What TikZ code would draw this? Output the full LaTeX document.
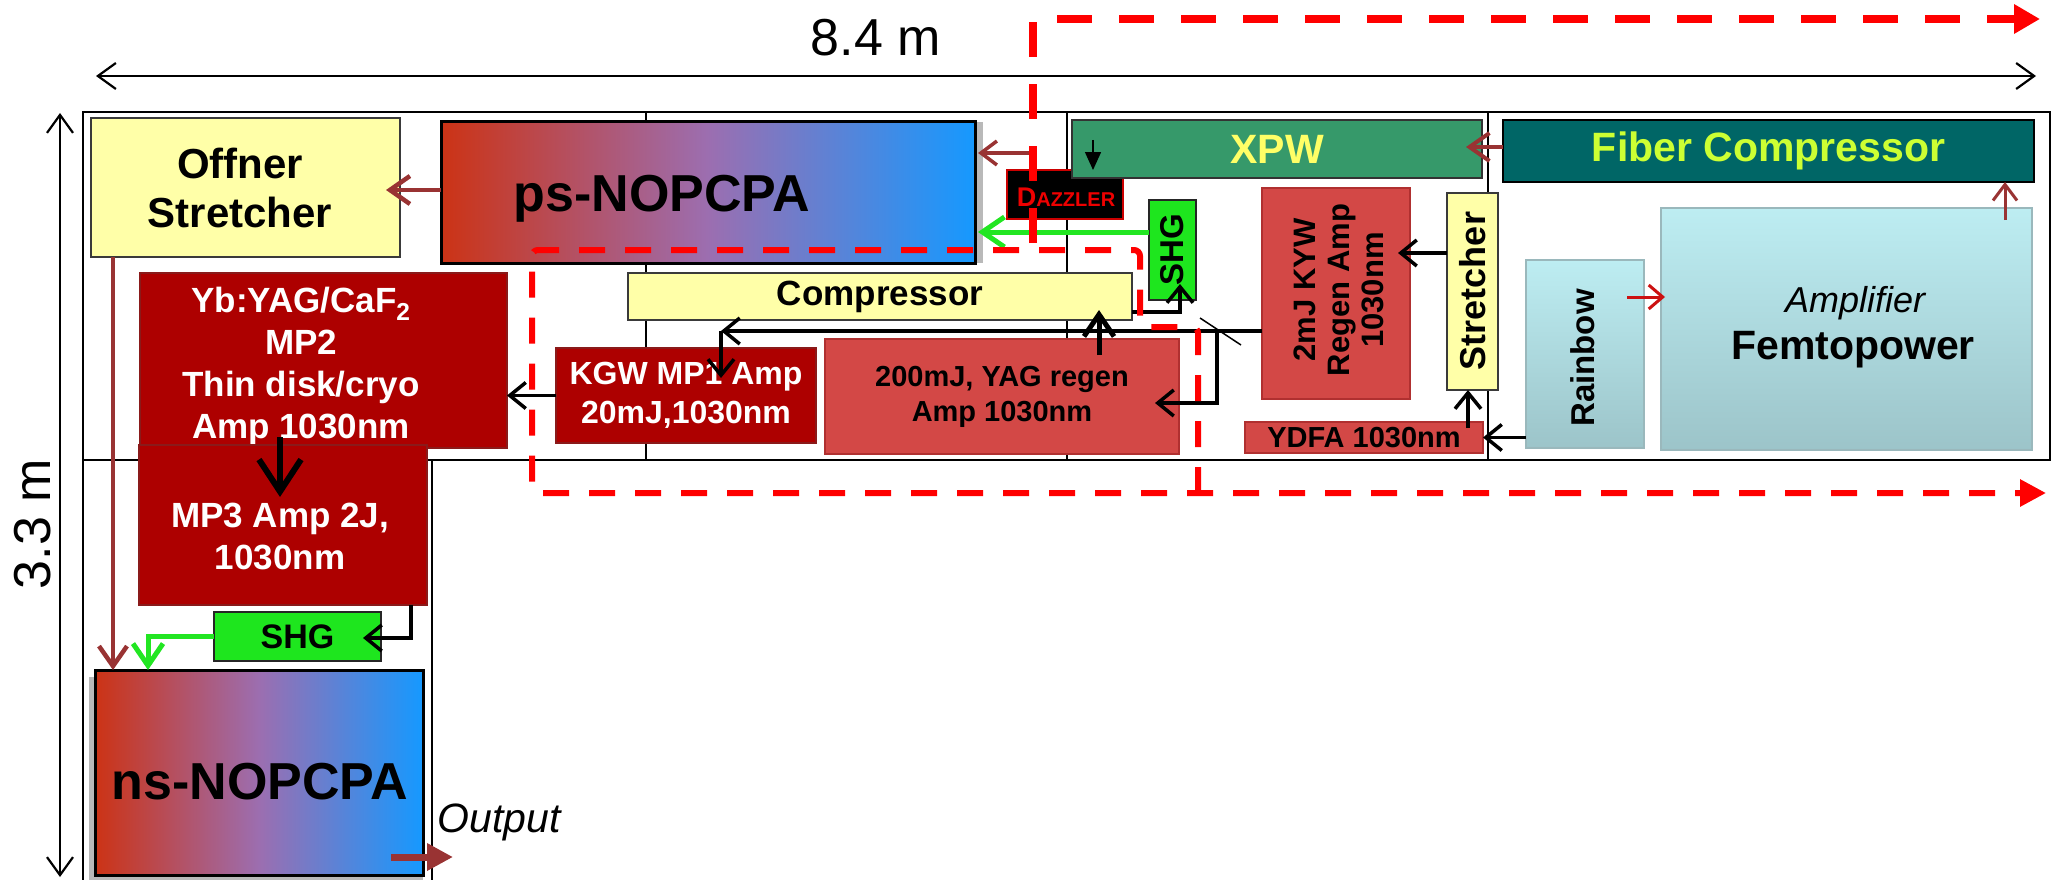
\documentclass[tikz,border=0pt]{standalone}
\usepackage{fontspec}
\setmainfont{Liberation Sans}
\usetikzlibrary{arrows.meta,calc}
\definecolor{yelF}{HTML}{FFFFA8}
\definecolor{yelD}{HTML}{3A3A3A}
\definecolor{dredF}{HTML}{AD0000}
\definecolor{dredD}{HTML}{8A1A1A}
\definecolor{mredF}{HTML}{D34846}
\definecolor{mredD}{HTML}{B03030}
\definecolor{cyT}{HTML}{BDEDF2}
\definecolor{cyB}{HTML}{9CC4C9}
\definecolor{cyD}{HTML}{9AB8BC}
\definecolor{gL}{HTML}{CC3315}
\definecolor{gM}{HTML}{9C6EB0}
\definecolor{gR}{HTML}{1599FF}
\definecolor{xpwF}{HTML}{36996A}
\definecolor{xpwT}{HTML}{FFFF66}
\definecolor{fibF}{HTML}{006666}
\definecolor{fibT}{HTML}{CCFF33}
\definecolor{grnF}{HTML}{1EE61E}
\definecolor{grnL}{HTML}{22E622}
\definecolor{drA}{HTML}{993333}
\definecolor{redA}{HTML}{CC1111}
\definecolor{redD}{HTML}{FF0000}
\definecolor{dazD}{HTML}{CC0000}
\definecolor{dazT}{HTML}{EE0000}
\newcommand\myfs[2]{\fontsize{#1}{#2}\selectfont}
\begin{document}
\begin{tikzpicture}[x=1pt,y=-1pt,
  box/.style={inner sep=0pt,outer sep=0pt,align=center},
  yelbox/.style={box,fill=yelF,draw=yelD,line width=2.5pt},
  dredbox/.style={box,fill=dredF,draw=dredD,line width=2pt,text=white},
  mredbox/.style={box,fill=mredF,draw=mredD,line width=2pt},
  cyanbox/.style={box,top color=cyT,bottom color=cyB,draw=cyD,line width=2pt},
  gradbox/.style={box,left color=gL,right color=gR,middle color=gM,draw=black,line width=3pt},
  grnbox/.style={box,fill=grnF,draw=black!85,line width=2.5pt},
  lbl/.style={inner sep=0pt,outer sep=0pt,align=center},
  blk/.style={line width=3.5pt,draw=black,-{Straight Barb[length=16pt,width=26pt]}},
  blkthick/.style={line width=5pt,draw=black,-{Straight Barb[length=22pt,width=30pt]}},
  blkbig/.style={line width=6pt,draw=black,-{Straight Barb[length=32pt,width=42pt]}},
  drarr/.style={line width=4.5pt,draw=drA,-{Straight Barb[length=20pt,width=28pt]}},
  drthin/.style={line width=3pt,draw=drA,-{Straight Barb[length=16pt,width=24pt]}},
  grnarr/.style={line width=5pt,draw=grnL,-{Straight Barb[length=22pt,width=30pt]}},
  frame/.style={line width=2pt,draw=black},
  dim/.style={line width=2.2pt,{Straight Barb[length=18pt,width=26pt]}-{Straight Barb[length=18pt,width=26pt]}},
  reddashT/.style={line width=8pt,draw=redD,dash pattern=on 35pt off 27pt,-{Triangle[length=26pt,width=28pt]}},
  reddashB/.style={line width=6pt,draw=redD,dash pattern=on 26pt off 20pt,rounded corners=6pt,-{Triangle[length=26pt,width=26pt]}},
]
\useasboundingbox (0,0) rectangle (2058,880);

% frames
\draw[frame] (83,112) rectangle (2050,460);
\draw[frame] (83,460) -- (83,880);
\draw[frame] (432,460) -- (432,880);
\draw[frame] (646,112) -- (646,460);
\draw[frame] (1067,112) -- (1067,460);
\draw[frame] (1488,112) -- (1488,460);

% dimensions
\coordinate (dimL) at (96,76); \coordinate (dimR) at (2036,76);
\draw[dim] (dimL) -- (dimR);
\node[lbl,font=\myfs{52}{60}] (len) at (876,38) {8.4 m};
\coordinate (dimT) at (60,113); \coordinate (dimB) at (60,877);
\draw[dim] (dimT) -- (dimB);
\node[lbl,rotate=90,font=\myfs{52}{60}] (wid) at (33,524) {3.3 m};

% ps-NOPCPA
\fill[gray!55] (976,122) rectangle (983,263);
\node[gradbox,minimum width=534pt,minimum height=141pt] (ps) at (708,192.5) {};
\node[lbl,font=\myfs{52}{60}\bfseries] (psT) at (662,199) {ps-NOPCPA};

% Offner
\node[yelbox,minimum width=309pt,minimum height=139pt] (offner) at (245.5,187.5) {};
\node[lbl,font=\myfs{42}{49}\bfseries] (offT) at (240,188) {Offner\\Stretcher};

% Dazzler
\node[box,fill=black,draw=dazD,line width=2.5pt,minimum width=116pt,minimum height=49pt] (daz) at (1065,194.5) {};
\node[lbl,text=dazT,font=\bfseries] (dazT) at (1066,197) {{\myfs{27}{27}D}{\myfs{20}{20}AZZLER}};

% SHG vertical
\node[grnbox,minimum width=47pt,minimum height=100pt] (shgv) at (1172.5,250) {};
\node[lbl,rotate=90,font=\myfs{33}{36}\bfseries] (shgvT) at (1172,250) {SHG};

% XPW, Fiber compressor
\node[box,fill=xpwF,draw=black!80,line width=2.5pt,minimum width=410pt,minimum height=58pt,text=xpwT,font=\myfs{41}{48}\bfseries] (xpw) at (1277,149) {XPW};
\node[box,fill=fibF,draw=black,line width=2.5pt,minimum width=531pt,minimum height=62pt,text=fibT,font=\myfs{41}{48}\bfseries] (fiber) at (1768.5,151) {Fiber Compressor};

% Compressor
\node[yelbox,minimum width=504pt,minimum height=47pt,font=\myfs{35}{40}\bfseries] (comp) at (880,296.5) {Compressor};

% 2mJ KYW regen
\node[mredbox,minimum width=148pt,minimum height=211pt] (kyw) at (1336,293.5) {};
\node[lbl,rotate=90,font=\myfs{31}{34}\bfseries] (kywT) at (1339,290) {2mJ KYW\\Regen Amp\\1030nm};

% Stretcher
\node[yelbox,minimum width=51pt,minimum height=197pt] (str) at (1472.5,291.5) {};
\node[lbl,rotate=90,font=\myfs{36}{40}\bfseries] (strT) at (1473,291) {Stretcher};

% Rainbow, Femtopower
\node[cyanbox,minimum width=118pt,minimum height=188pt] (rb) at (1585,354) {};
\node[lbl,rotate=90,font=\myfs{33}{36}\bfseries] (rbT) at (1583,358) {Rainbow};
\node[cyanbox,minimum width=371pt,minimum height=242pt] (femto) at (1846.5,329) {};
\node[lbl,font=\myfs{36}{40}\itshape] (ampT) at (1855,303) {Amplifier};
\node[lbl,font=\myfs{41}{46}\bfseries] (femT) at (1853,350) {Femtopower};

% YDFA
\node[mredbox,minimum width=238pt,minimum height=31pt,font=\myfs{29}{32}\bfseries] (ydfa) at (1364,437.5) {YDFA 1030nm};

% 200mJ YAG regen
\node[mredbox,minimum width=354pt,minimum height=115pt,font=\myfs{29}{35}\bfseries] (yag) at (1002,396.5) {200mJ, YAG regen\\Amp 1030nm};

% KGW MP1
\node[dredbox,minimum width=260pt,minimum height=95pt,font=\myfs{32}{39}\bfseries] (kgw) at (686,395.5) {KGW MP1 Amp\\20mJ,1030nm};

% MP2
\node[dredbox,minimum width=367pt,minimum height=175pt] (mp2) at (323.5,360.5) {};
\node[lbl,text=white,font=\myfs{35}{42}\bfseries] (mp2T) at (301,366) {Yb:YAG/CaF\textsubscript{2}\\MP2\\Thin disk/cryo\\Amp 1030nm};

% MP3
\node[dredbox,minimum width=288pt,minimum height=160pt] (mp3) at (283,525) {};
\node[lbl,text=white,font=\myfs{35}{42}\bfseries] (mp3T) at (280,536) {MP3 Amp 2J,\\1030nm};

% SHG horizontal
\node[grnbox,minimum width=167pt,minimum height=49pt,font=\myfs{34}{38}\bfseries] (shgh) at (297.5,636.5) {SHG};

% ns-NOPCPA
\fill[gray!55] (89,677) rectangle (95,880);
\fill[gray!55] (89,875) rectangle (423,880);
\node[gradbox,minimum width=328pt,minimum height=205pt] (ns) at (259,772.5) {};
\node[lbl,font=\myfs{52}{60}\bfseries] (nsT) at (260,782) {ns-NOPCPA};

% Output
\node[lbl,font=\myfs{41}{48}\itshape] (outT) at (499,822) {Output};
\coordinate (o1) at (391,857); \coordinate (o2) at (453,857);
\draw[line width=7pt,draw=drA,-{Triangle[length=26pt,width=26pt]}] (o1) -- (o2);

% connectors
\coordinate (a1) at (386,190);
\draw[drarr] (ps.west |- a1) -- (a1);
\coordinate (b1) at (113,0);
\draw[drarr] (offner.south -| b1) -- (ns.north -| b1);
\coordinate (g1) at (148,0);
\draw[grnarr] (shgh.west) -| (g1 |- ns.north);
\coordinate (m1) at (411,0);
\draw[blk] (mp3.south -| m1) |- ($(shgh.east)+(-18,1.5)$);
\coordinate (m2) at (280,437); \coordinate (m3) at (280,497);
\draw[blkbig] (m2) -- (m3);
\draw[blk] (kgw.west) -- (kgw.west -| mp2.east);
\coordinate (k1) at (721,331);
\draw[blk] (kyw.west |- k1) -- (k1);
\draw[blk] (k1) -- ($(kgw.north -| k1)+(0,30)$);
\coordinate (mirA) at (1200,318); \coordinate (mirB) at (1241,345);
\draw[line width=1.5pt] (mirA) -- (mirB);
\coordinate (k2) at (1217,331); \coordinate (k3) at (1155,403);
\draw[blk] (k2) |- (k3);
\coordinate (y1) at (1099,355);
\draw[blkthick] (y1) -- ($(comp.south -| y1)+(0,-10)$);
\coordinate (c5) at (1132,312); \coordinate (c6) at (1180,0);
\draw[blk] (comp.east |- c5) -| ($(shgv.south -| c6)+(0,-16)$);
\coordinate (g2) at (978,232);
\draw[grnarr] (shgv.west |- g2) -- (g2);
\coordinate (d1) at (1030,153); \coordinate (d2) at (978,153);
\draw[drthin,line width=3.5pt] (d1) -- (d2);
\coordinate (x1) at (1093,140);
\draw[line width=1.5pt,-{Triangle[length=18pt,width=16pt]}] (x1) -- (x1 |- daz.north);
\coordinate (f1) at (1466,147);
\draw[drarr,line width=4pt] (fiber.west |- f1) -- (f1);
\coordinate (f2) at (2005,220);
\draw[drthin] (f2) -- (f2 |- fiber.south);
\coordinate (r1) at (1627,297); \coordinate (r2) at (1665,297);
\draw[line width=3pt,draw=redA,-{Straight Barb[length=14pt,width=24pt]}] (r1) -- (r2);
\draw[blk] (rb.west |- ydfa.east) -- (ydfa.east);
\coordinate (s1) at (1468,0);
\draw[blk] ($(ydfa.north -| s1)+(0,6)$) -- (str.south -| s1);
\coordinate (s2) at (1398,253);
\draw[blk] (str.west |- s2) -- (s2);

% red dashed paths
\coordinate (rt0) at (1033,243); \coordinate (rt1) at (1033,19); \coordinate (rt2) at (2040,19);
\draw[reddashT] (rt0) -- (rt1) -- (rt2);
\coordinate (rb0) at (1198,493); \coordinate (rb1) at (1198,327); \coordinate (rb2) at (1140,327);
\coordinate (rb3) at (1140,250); \coordinate (rb4) at (532,250); \coordinate (rb5) at (532,493);
\coordinate (rb6) at (2046,493);
\draw[reddashB] (rb0) -- (rb1) -- (rb2) -- (rb3) -- (rb4) -- (rb5) -- (rb6);
\end{tikzpicture}
\end{document}
